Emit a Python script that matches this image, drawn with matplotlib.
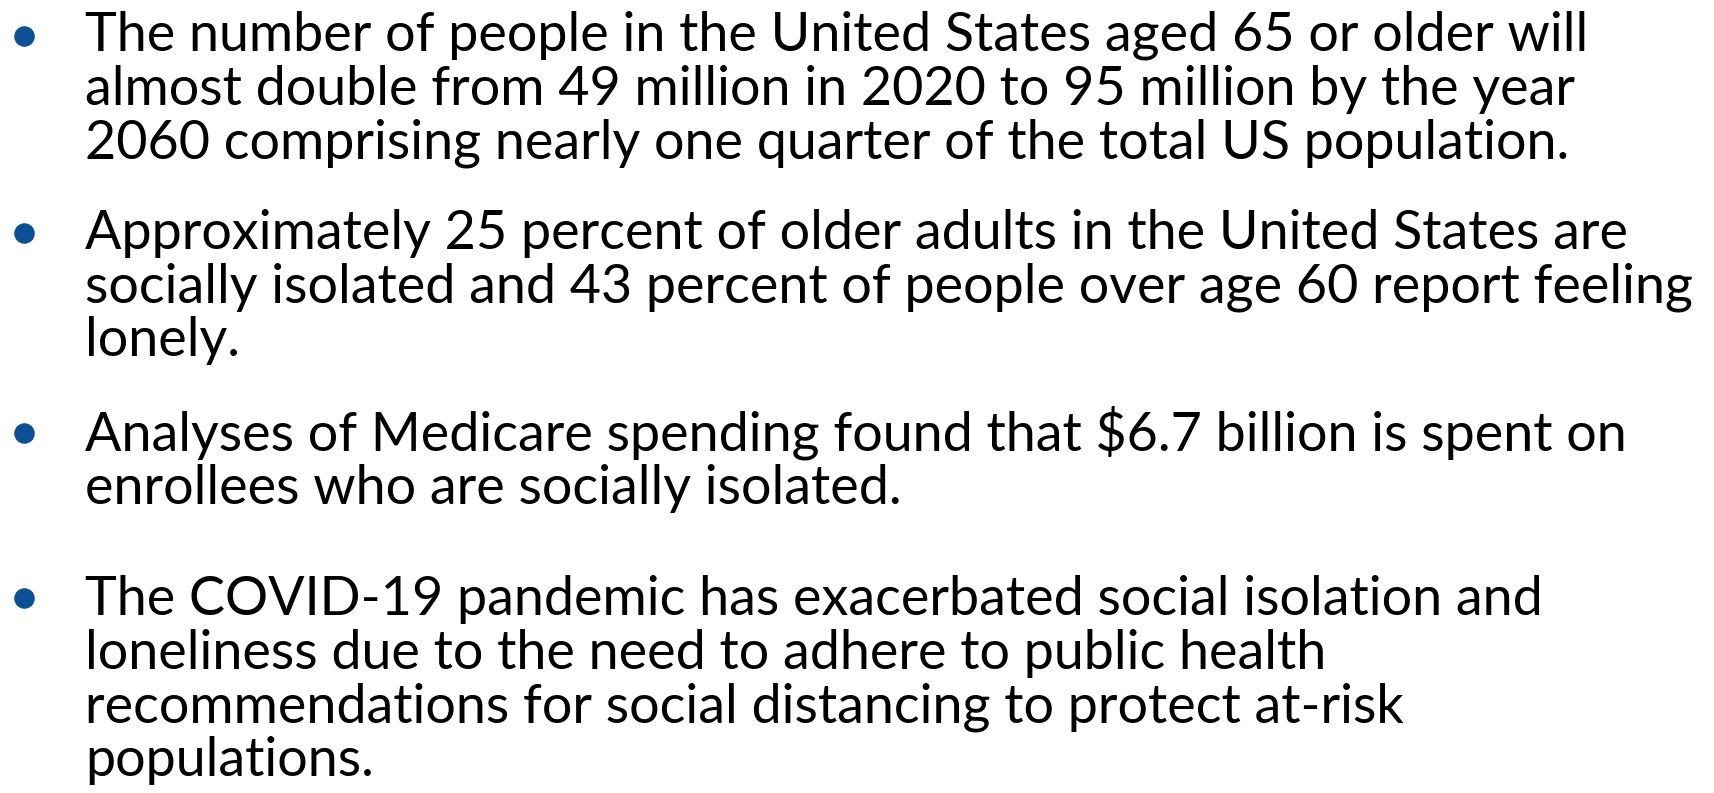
import matplotlib
matplotlib.use('Agg')
import matplotlib.pyplot as plt

# bullet text, one list of lines per bullet
bullets = [
    ['The number of people in the United States aged 65 or older will',
     'almost double from 49 million in 2020 to 95 million by the year',
     '2060 comprising nearly one quarter of the total US population.'],
    ['Approximately 25 percent of older adults in the United States are',
     'socially isolated and 43 percent of people over age 60 report feeling',
     'lonely.'],
    ['Analyses of Medicare spending found that $6.7 billion is spent on',
     'enrollees who are socially isolated.'],
    ['The COVID-19 pandemic has exacerbated social isolation and',
     'loneliness due to the need to adhere to public health',
     'recommendations for social distancing to protect at-risk',
     'populations.'],
]

W, H = 1715, 793
font = 'Lato'
bullet_color = '#0c4f94'

# layout in pixels (top-left origin)
first_baseline = [51, 249, 450, 615]
line_pitch = 53.6
text_x = 85
dot_x = 24
dot_y = [36, 233, 433, 598]

fig = plt.figure(figsize=(W / 100, H / 100), dpi=100)
ax = fig.add_axes([0, 0, 1, 1])
ax.set_xlim(0, W)
ax.set_ylim(H, 0)
ax.axis('off')

# pick font size so the first line spans the same width as in the slide
probe = ax.text(0, 0, bullets[0][0], fontsize=10, family=font)
fig.canvas.draw()
w = probe.get_window_extent().width
probe.remove()
size = 10 * 1510 / w

for i, lines in enumerate(bullets):
    ax.scatter(dot_x, dot_y[i], s=190, color=bullet_color, zorder=3)
    for j, line in enumerate(lines):
        ax.text(text_x, first_baseline[i] + j * line_pitch, line,
                fontsize=size, family=font, color='black', va='baseline', ha='left')

fig.savefig('out.png', dpi=100, facecolor='white')
